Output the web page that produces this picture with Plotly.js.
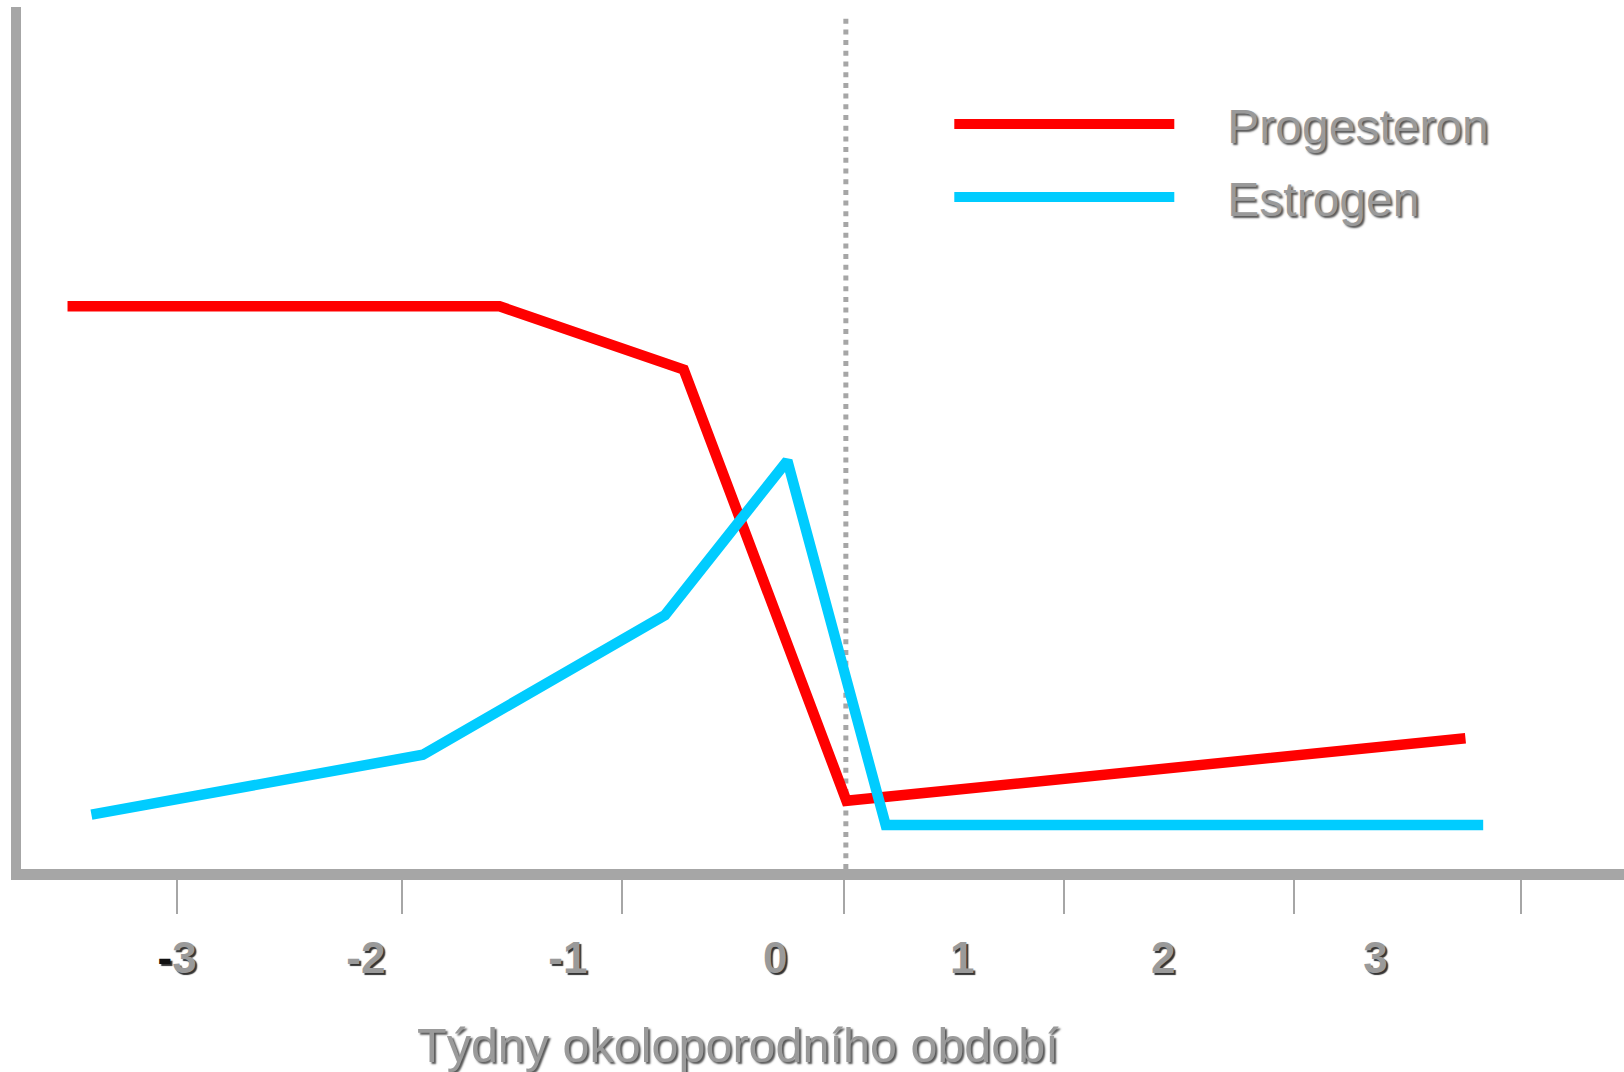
<!DOCTYPE html>
<html>
<head>
<meta charset="utf-8">
<script src="https://cdn.plot.ly/plotly-3.0.1.min.js"></script>
<style>
  html, body { margin: 0; padding: 0; background: #ffffff; }
  #chart { width: 1624px; height: 1072px; }
</style>
</head>
<body>
<div id="chart"></div>
<script>
// ---- data (x in weeks, y in relative units 0-100) ----
const seriesNames = ["Progesteron", "Estrogen"];
const progesteronWeeks = [-3.528, -1.359, -0.434, 0.383, 3.491];
const progesteronLevel = [65.5, 65.5, 58.2, 8.5, 15.7];
const estrogenWeeks = [-3.408, -1.744, -0.528, 0.086, 0.580, 3.580];
const estrogenLevel = [6.9, 13.8, 29.9, 47.7, 5.7, 5.7];
const tickLabelWeeks = [-2.978, -2.03, -1.016, 0.025, 0.964, 1.973, 3.039];
const tickLabelText = ["<span style='color:#111'>-</span>3", "-2", "-1", "0", "1", "2", "3"];
const tickMarkWeeks = [-2.977, -1.847, -0.743, 0.371, 1.476, 2.631, 3.770];
const partusWeek = [0.380];
const xTitle = "Týdny okoloporodního období";

const gray = "#a6a6a6";
const textGray = "#9a9a9a";
const font = "Liberation Sans, Arial, sans-serif";

const traces = [
  {
    x: progesteronWeeks, y: progesteronLevel, name: "\u2003" + seriesNames[0],
    type: "scatter", mode: "lines",
    line: { color: "#ff0000", width: 10.5 },
    legendgroup: "p"
  },
  {
    x: estrogenWeeks, y: estrogenLevel, name: "\u2003" + seriesNames[1],
    type: "scatter", mode: "lines",
    line: { color: "#00ccff", width: 10.5 },
    legendgroup: "e"
  }
];

const layout = {
  width: 1624, height: 1072,
  margin: { l: 20.7, r: 0, t: 7, b: 203 },
  paper_bgcolor: "#ffffff", plot_bgcolor: "#ffffff",
  showlegend: true,
  legend: {
    x: 0.5791, y: 0.9079, xanchor: "left", yanchor: "top",
    bgcolor: "rgba(0,0,0,0)", borderwidth: 0,
    itemwidth: 220,
    traceorder: "grouped", tracegroupgap: 7.5,
    font: { family: font, size: 48, color: textGray, shadow: "2px 2px 2px #555" }
  },
  xaxis: {
    range: [-3.7616, 4.287],
    showgrid: false, zeroline: false,
    showline: true, linecolor: gray, linewidth: 11,
    tickmode: "array", tickvals: tickLabelWeeks, ticktext: tickLabelText,
    ticks: "", ticklabelstandoff: 40,
    tickfont: { family: font, size: 44, weight: "bold",
                color: textGray, shadow: "2px 2px 1px #333" },
    minor: { tickmode: "array", tickvals: tickMarkWeeks, ticks: "outside",
             ticklen: 34, tickwidth: 2, tickcolor: gray },
    fixedrange: true
  },
  yaxis: {
    range: [0.634, 100],
    showgrid: false, zeroline: false,
    showline: true, linecolor: gray, linewidth: 10.5,
    showticklabels: false, ticks: "",
    fixedrange: true
  },
  annotations: [{
    text: xTitle, xref: "paper", yref: "paper",
    x: 0.4471, y: -0.2042, xanchor: "center", yanchor: "middle",
    showarrow: false,
    font: { family: font, size: 48.5, color: textGray, shadow: "2px 2px 2px #555" }
  }],
  shapes: partusWeek.map(w => ({
    type: "line", xref: "x", yref: "paper",
    x0: w, x1: w, y0: 0, y1: 0.9907,
    line: { color: gray, width: 5, dash: "5px,5.7px" },
    layer: "below"
  }))
};

Plotly.newPlot("chart", traces, layout, { displayModeBar: false, staticPlot: true });
</script>
</body>
</html>
